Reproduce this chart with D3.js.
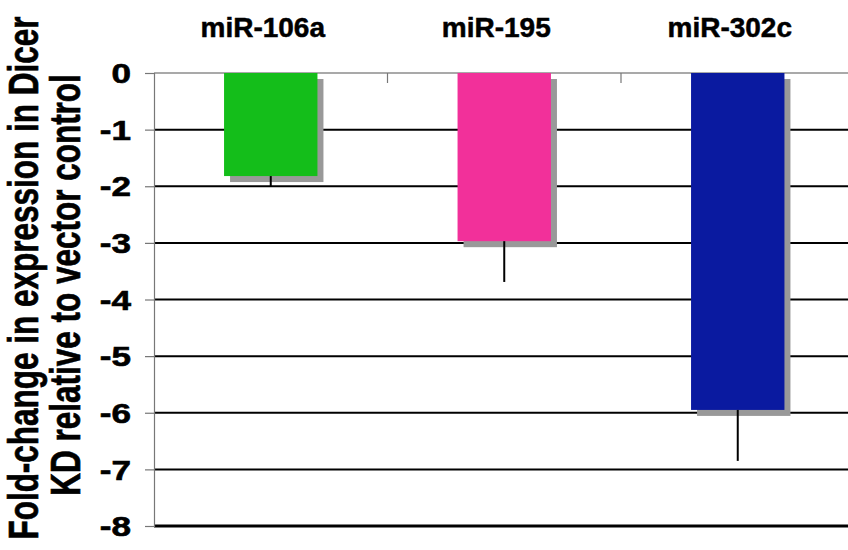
<!DOCTYPE html>
<html><head><meta charset="utf-8">
<script src="https://cdn.jsdelivr.net/npm/d3@7"></script>
<style>body{margin:0;background:#fff}svg{display:block}text{font-family:"Liberation Sans",Arial,sans-serif;font-weight:bold}</style>
</head><body>
<svg id="c" width="848" height="550"></svg>
<script>
const categories = ["miR-106a", "miR-195", "miR-302c"];
const values = [-1.82, -2.97, -5.95];
const errors = [0.18, 0.72, 0.90];
const colors = ["#14BE1A", "#F2309A", "#0A1AA0"];
const yTicks = [0, -1, -2, -3, -4, -5, -6, -7, -8];
const titleLines = ["Fold-change in expression in Dicer", "KD relative to vector control"];

const svg = d3.select("#c");
const x0 = 154, bw = 233.5;
const x = d3.scaleBand().domain(categories).range([x0, x0 + 3 * bw]).paddingInner(0.6).paddingOuter(0.3);
const xb = d3.scaleBand().domain(categories).range([x0, x0 + 3 * bw]);
const y = d3.scaleLinear().domain([-8, 0]).range([526, 73]);

// gridlines
svg.append("g").selectAll("line").data(yTicks.filter(d => d !== 0)).join("line")
  .attr("x1", x0).attr("x2", 848).attr("y1", d => y(d)).attr("y2", d => y(d))
  .attr("stroke", "#000").attr("stroke-width", d => d === -8 ? 3 : 2);
// zero line
svg.append("line").attr("x1", x0).attr("x2", 848).attr("y1", y(0)).attr("y2", y(0))
  .attr("stroke", "#555").attr("stroke-width", 1.2);
// category ticks at top
svg.append("g").selectAll("line").data(categories.slice(1)).join("line")
  .attr("x1", d => xb(d)).attr("x2", d => xb(d)).attr("y1", y(0)).attr("y2", y(0) + 10)
  .attr("stroke", "#777").attr("stroke-width", 1.2);

// y axis
const yAxis = d3.axisLeft(y).tickValues(yTicks).tickSize(9).tickPadding(13).tickFormat(d3.format("d"));
const ga = svg.append("g").attr("transform", `translate(${x0},0)`).call(yAxis);
ga.select(".domain").attr("stroke", "#777").attr("stroke-width", 1.2);
ga.selectAll(".tick line").attr("stroke", "#777").attr("stroke-width", 1.2);
ga.selectAll(".tick text").attr("font-size", 27).attr("fill", "#000")
  .attr("stroke", "#000").attr("stroke-width", 0.6)
  .attr("x", 0).attr("dy", "0.36em")
  .attr("transform", "translate(-23,0) scale(1.3,1)")
  .style("font-family", '"Liberation Sans",Arial,sans-serif').style("font-weight", "bold")
  .text(d => d === 0 ? "0" : "-" + Math.abs(d));

const data = categories.map((c, i) => ({c, v: values[i], e: errors[i], col: colors[i]}));
// shadows
svg.append("g").selectAll("rect").data(data).join("rect")
  .attr("x", d => x(d.c) + 6).attr("y", y(0) + 6)
  .attr("width", x.bandwidth()).attr("height", d => y(d.v) - y(0))
  .attr("fill", "#999");
// bars
svg.append("g").selectAll("rect").data(data).join("rect")
  .attr("x", d => x(d.c)).attr("y", y(0))
  .attr("width", x.bandwidth()).attr("height", d => y(d.v) - y(0))
  .attr("fill", d => d.col);
// error bars
svg.append("g").selectAll("line").data(data).join("line")
  .attr("x1", d => x(d.c) + x.bandwidth() / 2).attr("x2", d => x(d.c) + x.bandwidth() / 2)
  .attr("y1", d => y(d.v)).attr("y2", d => y(d.v - d.e))
  .attr("stroke", "#000").attr("stroke-width", 2);

// category labels
svg.append("g").selectAll("text").data(categories).join("text")
  .attr("transform", d => `translate(${xb(d) + xb.bandwidth() / 2 - 8},37)`)
  .attr("text-anchor", "middle").attr("font-size", 28)
  .attr("stroke", "#000").attr("stroke-width", 0.5).text(d => d);

// y title
const tx = [38, 80], ty = [278, 285];
svg.append("g").selectAll("text").data(titleLines).join("text")
  .attr("transform", (d, i) => `translate(${tx[i]},${ty[i]}) rotate(-90) scale(1,1.35)`)
  .attr("text-anchor", "middle").attr("font-size", 31.5)
  .attr("stroke", "#000").attr("stroke-width", 0.5).text(d => d);
</script>
</body></html>
